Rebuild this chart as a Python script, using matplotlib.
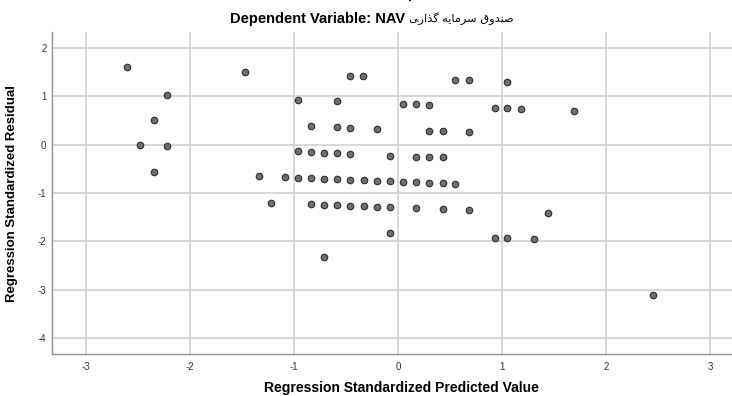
import matplotlib
matplotlib.use("Agg")
import matplotlib.pyplot as plt

# ---- data ----
pred = [-2.61, -2.22, -2.35, -2.48, -2.22, -2.35,
        -1.47, -0.46, -0.34, -0.96, -0.59, 0.045, 0.17, 0.30,
        -0.84, -0.59, -0.46, -0.20, 0.30, 0.43, 0.68,
        0.55, 0.68, 1.05, 0.93, 1.05, 1.18, 1.69,
        -0.96, -0.84, -0.71, -0.59, -0.46, -0.08, 0.17, 0.30, 0.43,
        -1.34, -1.09, -0.96, -0.84, -0.71, -0.59, -0.46, -0.33, -0.20, -0.08,
        0.045, 0.17, 0.30, 0.43, 0.55,
        -1.22, -0.84, -0.71, -0.59, -0.46, -0.33, -0.20, -0.08, 0.17, 0.43, 0.68, 1.44,
        -0.08, -0.71, 0.93, 1.05, 1.31, 2.45]
resid = [1.60, 1.02, 0.51, -0.02, -0.04, -0.57,
         1.50, 1.42, 1.41, 0.92, 0.89, 0.84, 0.83, 0.82,
         0.38, 0.36, 0.34, 0.32, 0.28, 0.27, 0.25,
         1.33, 1.32, 1.29, 0.76, 0.75, 0.74, 0.69,
         -0.14, -0.16, -0.17, -0.18, -0.19, -0.23, -0.25, -0.25, -0.26,
         -0.65, -0.67, -0.69, -0.70, -0.71, -0.72, -0.73, -0.74, -0.75, -0.76,
         -0.78, -0.78, -0.80, -0.80, -0.82,
         -1.20, -1.23, -1.24, -1.25, -1.26, -1.27, -1.28, -1.29, -1.31, -1.33, -1.36, -1.42,
         -1.83, -2.32, -1.92, -1.92, -1.95, -3.11]
xticks = [-3, -2, -1, 0, 1, 2, 3]
yticks = [-4, -3, -2, -1, 0, 1, 2]

title_top = "Scatterplot"
title_latin = "Dependent Variable: NAV "
# Persian "صندوق سرمایه گذاری" written with presentation forms in display order
title_fa = ("\uFBFD\uFEAD\uFE8D\uFEAC\uFB94 "
            "\uFEEA\uFBFE\uFE8E\uFEE3\uFEAE\uFEB3 "
            "\uFED5\uFEED\uFEAA\uFEE8\uFEBB")
xlabel = "Regression Standardized Predicted Value"
ylabel = "Regression Standardized Residual"

plt.rcParams['font.family'] = ['Liberation Sans', 'DejaVu Sans']

W, H = 732, 396
fig = plt.figure(figsize=(W / 100, H / 100), dpi=100)
ax = fig.add_axes([52 / W, (H - 354) / H, (W - 52) / W, (354 - 32) / H])

ax.scatter(pred, resid, s=22, facecolor='#6f6f6f', edgecolor='#2e2e2e',
           linewidths=0.8, zorder=3)

ax.set_xlim(-3.327, 3.21)
ax.set_ylim(-4.32, 2.32)
ax.set_xticks(xticks)
ax.set_yticks(yticks)
ax.set_xticklabels([str(t) for t in xticks])
ax.set_yticklabels([str(t) for t in yticks])
ax.grid(True, color='#d4d4d4', linewidth=1.3, zorder=0)
ax.set_axisbelow(True)
ax.tick_params(length=0, labelsize=7, colors='#333333', pad=6)
ax.tick_params(axis='y', pad=4)
for s in ['top', 'right']:
    ax.spines[s].set_visible(False)
for s in ['left', 'bottom']:
    ax.spines[s].set_color('#909090')
    ax.spines[s].set_linewidth(1.0)

ax.set_xlabel(xlabel, fontsize=10, fontweight='bold')
ax.xaxis.set_label_coords((401 - 52) / (W - 52), -0.084)
ax.set_ylabel(ylabel, fontsize=9.5, fontweight='bold', labelpad=14)

# titles
fig.text(398 / W, 1 + 1.5 / H, title_top, ha='center', va='baseline',
         fontsize=10, fontweight='bold')
fig.text(409 / W, 1 - 19 / H, title_latin, ha='right', va='center',
         fontsize=10.5, fontweight='bold')
fig.text(409 / W, 1 - 19 / H, title_fa, ha='left', va='center',
         fontsize=8.2, family=['DejaVu Sans'])

fig.savefig("out.png", dpi=100)
